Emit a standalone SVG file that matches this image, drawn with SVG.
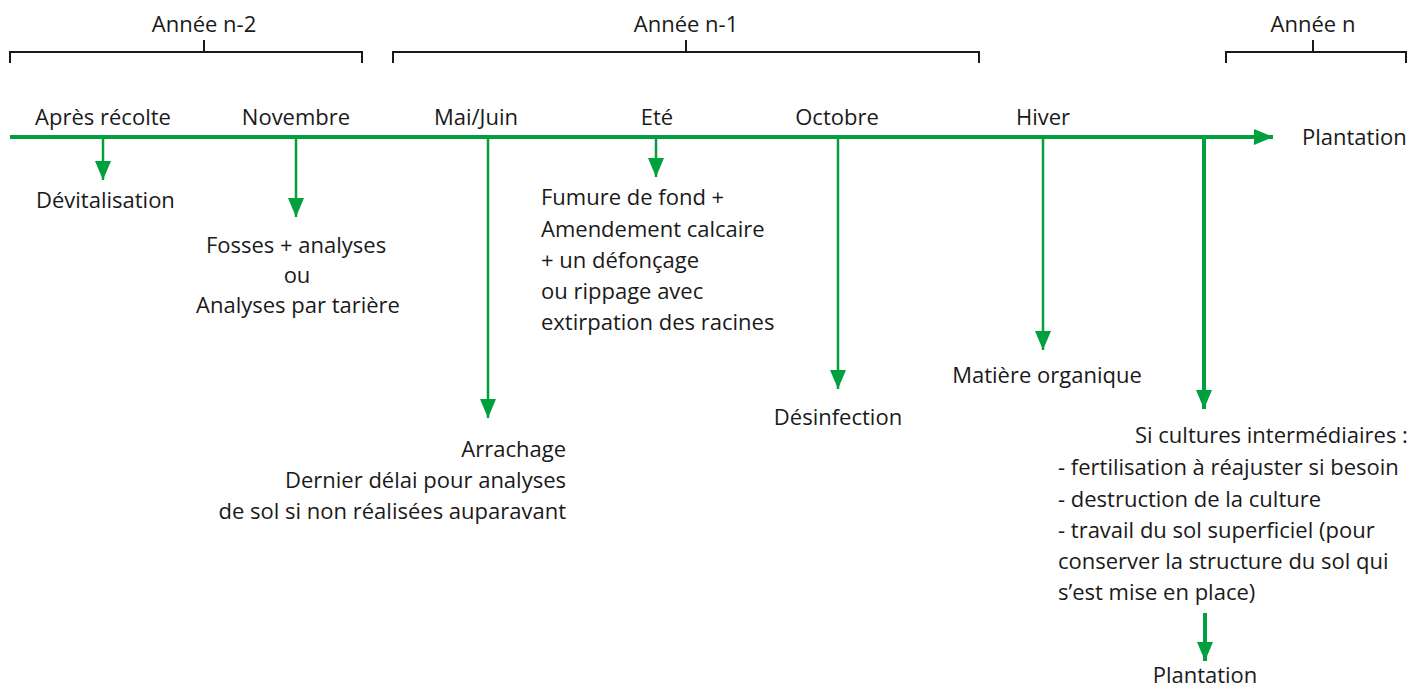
<svg xmlns="http://www.w3.org/2000/svg" width="1410" height="689" viewBox="0 0 1410 689">
<style>
text{font-family:"Open Sans","Noto Sans",sans-serif;font-size:22px;fill:#1a1a1a}
.m{text-anchor:middle}
.e{text-anchor:end}
.br{fill:none;stroke:#1a1a1a;stroke-width:2}
.g{stroke:#00a03e;fill:none}
.t{stroke-width:2.5}
.k{stroke-width:4}
</style>
<defs>
<marker id="ah" markerUnits="userSpaceOnUse" markerWidth="20" markerHeight="18" viewBox="0 0 20 18" refX="19" refY="8" orient="auto">
<path d="M0,0 L19,8 L0,16 Z" fill="#00a03e"/>
</marker>
</defs>
<rect width="1410" height="689" fill="#fff"/>
<g id="years">
<g id="year-n2"><path class="br" d="M10,63 V52 H362 V63 M204,52 V40"/><text class="m" x="204" y="32">Année n-2</text></g>
<g id="year-n1"><path class="br" d="M393,63 V52 H979 V63 M686,52 V40"/><text class="m" x="686" y="32">Année n-1</text></g>
<g id="year-n"><path class="br" d="M1226,63 V52 H1406 V63 M1313,52 V40"/><text class="m" x="1313" y="32">Année n</text></g>
</g>
<g id="connectors">
<line class="g k" x1="10" y1="137" x2="1273" y2="137" marker-end="url(#ah)"/>
<line class="g t" x1="103" y1="137" x2="103" y2="180" marker-end="url(#ah)"/>
<line class="g t" x1="296" y1="137" x2="296" y2="217" marker-end="url(#ah)"/>
<line class="g t" x1="488" y1="137" x2="488" y2="418" marker-end="url(#ah)"/>
<line class="g t" x1="656" y1="137" x2="656" y2="177" marker-end="url(#ah)"/>
<line class="g t" x1="838" y1="137" x2="838" y2="389" marker-end="url(#ah)"/>
<line class="g t" x1="1043" y1="137" x2="1043" y2="350" marker-end="url(#ah)"/>
<line class="g k" x1="1204" y1="137" x2="1204" y2="409" marker-end="url(#ah)"/>
<line class="g k" x1="1205" y1="613" x2="1205" y2="661" marker-end="url(#ah)"/>
</g>
<g id="labels">
<text class="m" x="103" y="125">Après récolte</text>
<text class="m" x="296" y="125">Novembre</text>
<text class="m" x="476" y="125">Mai/Juin</text>
<text class="m" x="657" y="125">Eté</text>
<text class="m" x="837" y="125">Octobre</text>
<text class="m" x="1043" y="125">Hiver</text>
<text x="1302" y="145">Plantation</text>
</g>
<g id="n-devitalisation"><text x="36" y="208">Dévitalisation</text></g>
<g id="n-fosses">
<text class="m" x="296" y="253">Fosses + analyses</text>
<text class="m" x="297" y="283">ou</text>
<text class="m" x="298" y="313">Analyses par tarière</text>
</g>
<g id="n-fumure">
<text x="541" y="205">Fumure de fond +</text>
<text x="541" y="237">Amendement calcaire</text>
<text x="541" y="268">+ un défonçage</text>
<text x="541" y="299">ou rippage avec</text>
<text x="541" y="330">extirpation des racines</text>
</g>
<g id="n-arrachage">
<text class="e" x="566" y="457">Arrachage</text>
<text class="e" x="566" y="488">Dernier délai pour analyses</text>
<text class="e" x="566" y="519">de sol si non réalisées auparavant</text>
</g>
<g id="n-desinfection"><text class="m" x="838" y="425">Désinfection</text></g>
<g id="n-matiere"><text class="m" x="1047" y="383">Matière organique</text></g>
<g id="n-cultures">
<text x="1135" y="443">Si cultures intermédiaires :</text>
<text x="1058" y="475">- fertilisation à réajuster si besoin</text>
<text x="1058" y="507">- destruction de la culture</text>
<text x="1058" y="538">- travail du sol superficiel (pour</text>
<text x="1058" y="569">conserver la structure du sol qui</text>
<text x="1058" y="600">s’est mise en place)</text>
</g>
<g id="n-plantation"><text class="m" x="1205" y="683">Plantation</text></g>
</svg>
